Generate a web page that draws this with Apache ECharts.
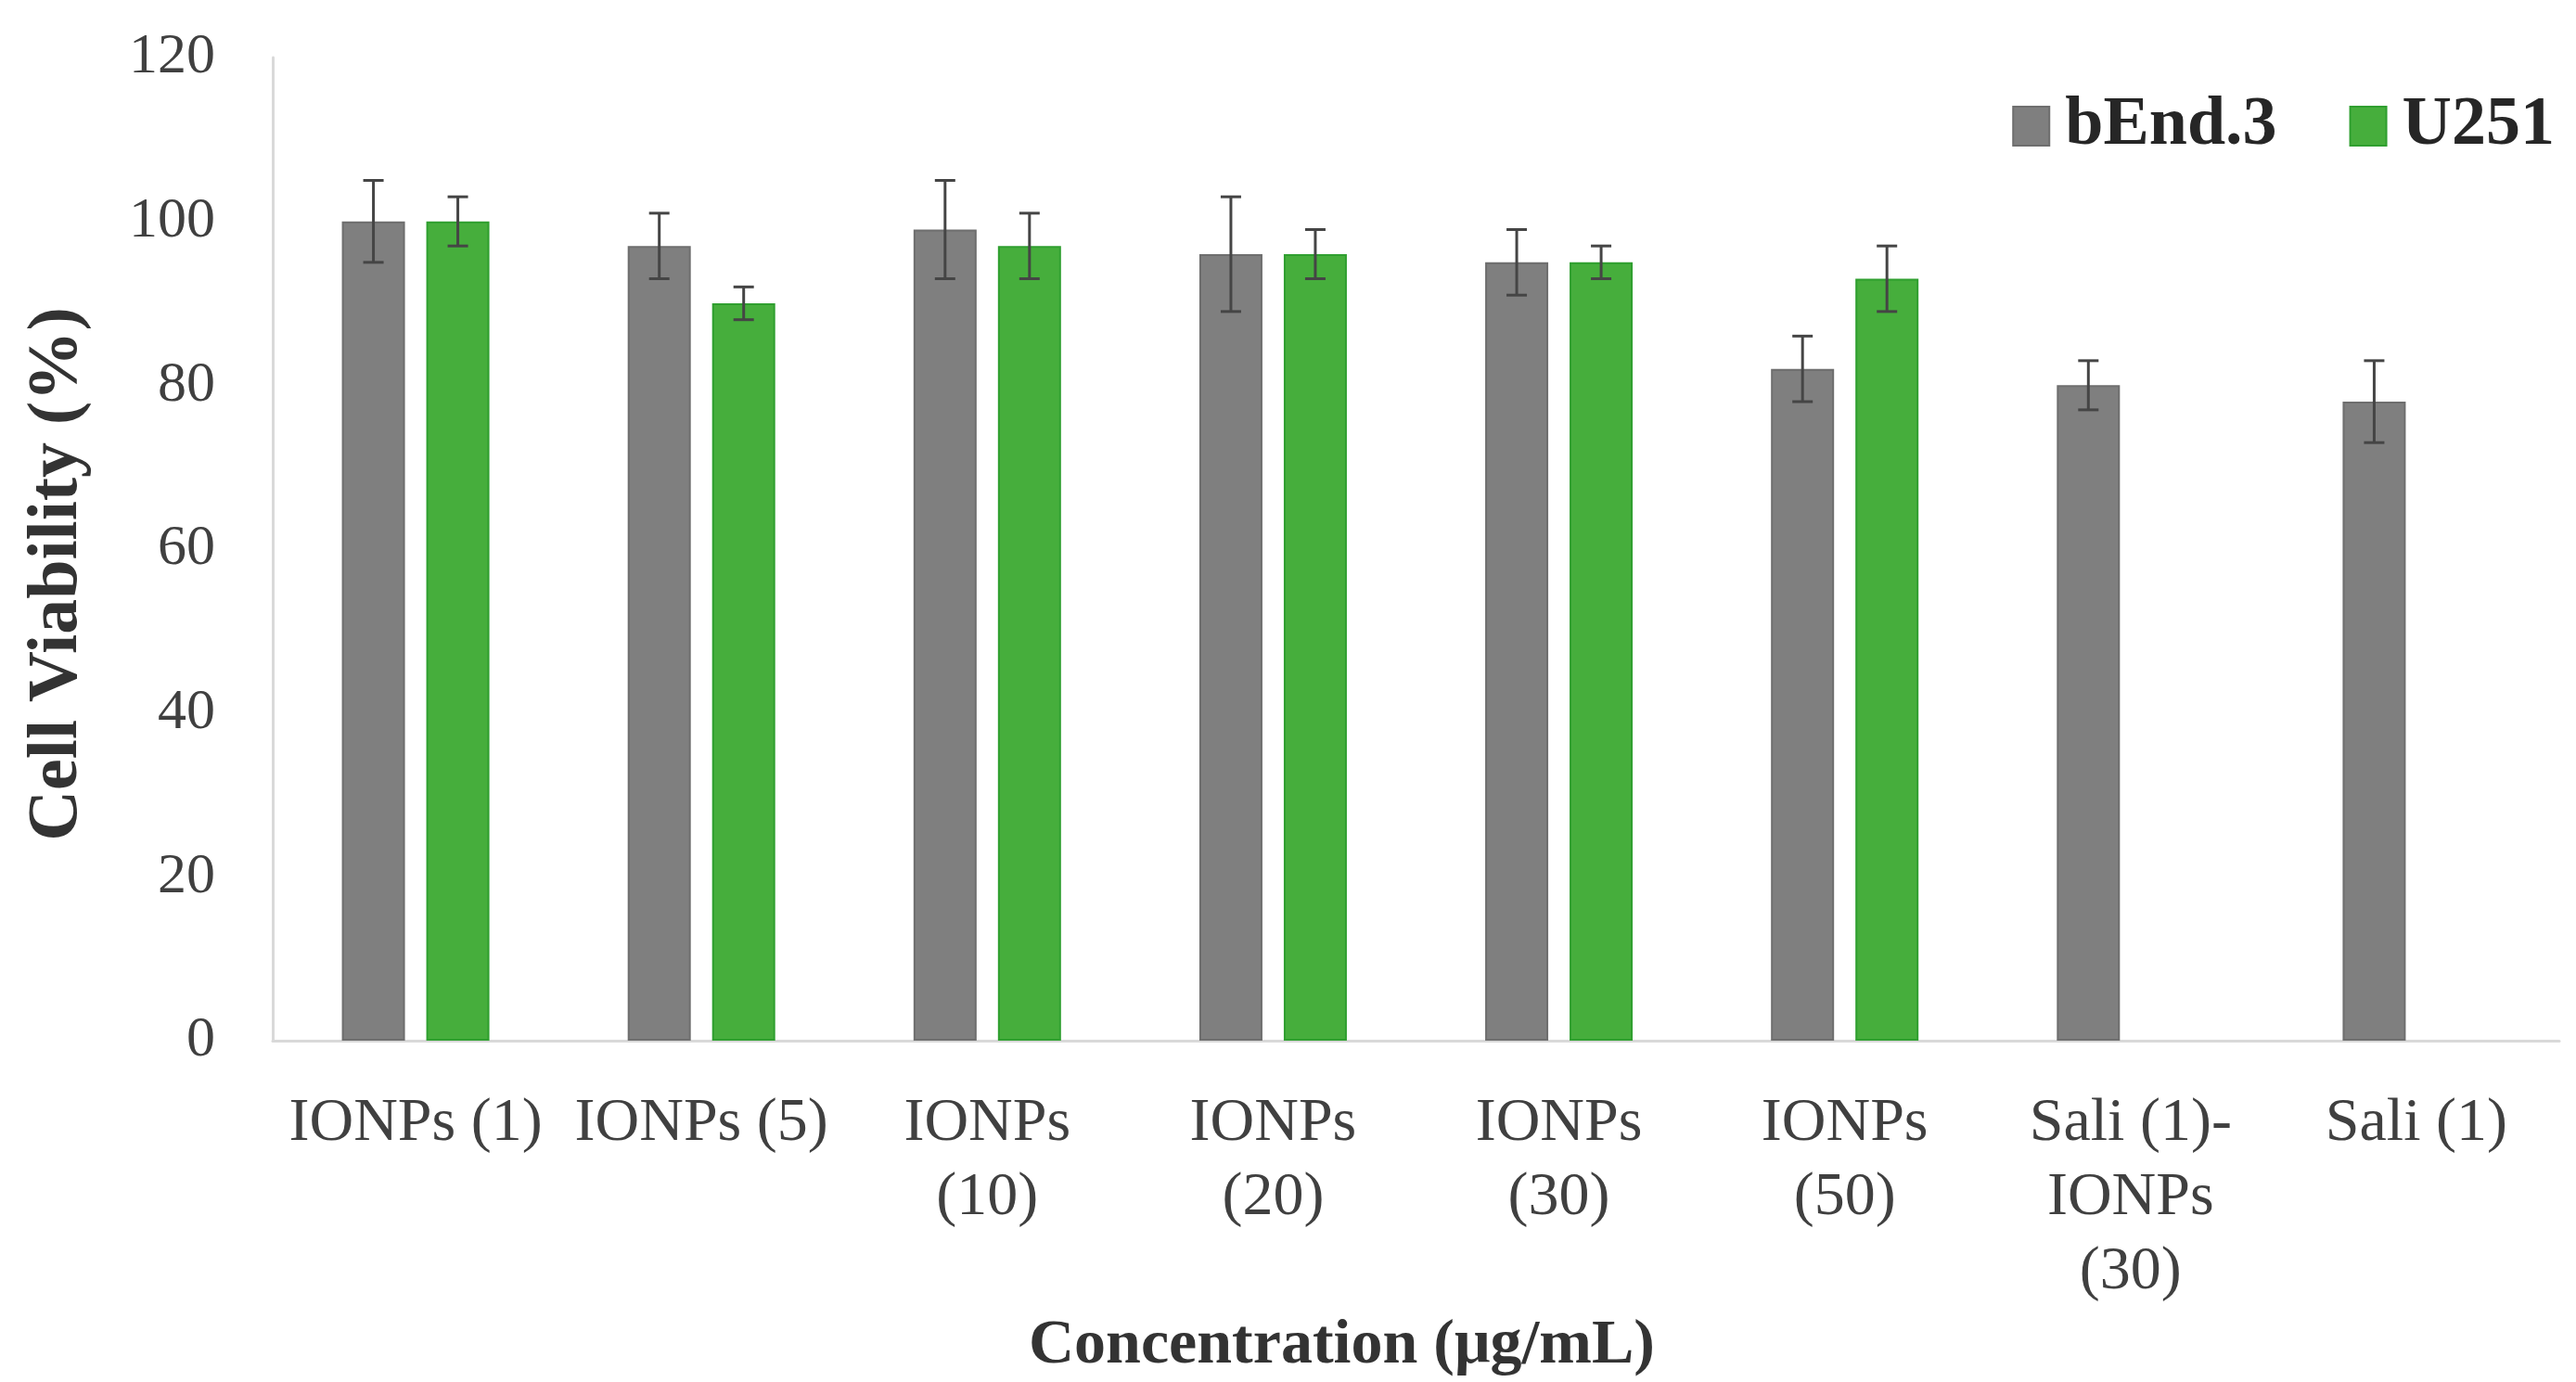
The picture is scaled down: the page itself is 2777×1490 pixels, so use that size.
<!DOCTYPE html>
<html>
<head>
<meta charset="utf-8">
<style>
    html, body { margin: 0; padding: 0; background: #fff; }
    #chart { width: 2777px; height: 1490px; }
</style>
<script src="https://cdn.jsdelivr.net/npm/echarts@6/dist/echarts.min.js"></script>
</head>
<body>
<div id="chart"></div>
<script type="text/javascript">
    // 数据
    var categories = ['IONPs (1)', 'IONPs (5)', 'IONPs\n(10)', 'IONPs\n(20)', 'IONPs\n(30)', 'IONPs\n(50)', 'Sali (1)-\nIONPs\n(30)', 'Sali (1)'];
    var bEnd3 = [100, 97, 99, 96, 95, 82, 80, 78];
    var bEnd3Err = [5, 4, 6, 7, 4, 4, 3, 5];
    var u251 = [100, 90, 97, 96, 95, 93, null, null];
    var u251Err = [3, 2, 4, 3, 2, 4, null, null];
    var yTicks = [0, 20, 40, 60, 80, 100, 120];

    var BAR_W = 68;
    var BAR_GAP = 23;
    var FONT = '"Liberation Serif", "Times New Roman", serif';

    function errData(vals, errs) {
        var out = [];
        for (var i = 0; i < vals.length; i++) {
            if (vals[i] != null) out.push([i, vals[i], errs[i]]);
        }
        return out;
    }

    // 误差线
    function errRender(side) {
        return function (params, api) {
            var i = api.value(0), m = api.value(1), e = api.value(2);
            var hi = api.coord([i, m + e]);
            var lo = api.coord([i, m - e]);
            var x = hi[0] + side * (BAR_W + BAR_GAP) / 2;
            var cap = 11;
            var st = { stroke: '#454545', lineWidth: 3 };
            return {
                type: 'group',
                children: [
                    { type: 'line', shape: { x1: x, y1: hi[1], x2: x, y2: lo[1] }, style: st },
                    { type: 'line', shape: { x1: x - cap, y1: hi[1], x2: x + cap, y2: hi[1] }, style: st },
                    { type: 'line', shape: { x1: x - cap, y1: lo[1], x2: x + cap, y2: lo[1] }, style: st }
                ]
            };
        };
    }

    var myChart = echarts.init(document.getElementById('chart'));
    myChart.setOption({
        animation: false,
        textStyle: { fontFamily: FONT },
        grid: { left: 294, right: 18, top: 62, bottom: 364 },
        legend: {
            data: ['bEnd.3', 'U251'],
            right: 18,
            top: 94,
            icon: 'rect',
            itemWidth: 39,
            itemHeight: 42,
            itemGap: 78,
            selectedMode: false,
            textStyle: { fontFamily: FONT, fontSize: 74, fontWeight: 'bold', color: '#262626', padding: [0, 0, 0, 12] }
        },
        xAxis: {
            type: 'category',
            data: categories,
            axisLine: { lineStyle: { color: '#d9d9d9', width: 3 } },
            axisTick: { show: false },
            axisLabel: { interval: 0, margin: 50, fontFamily: FONT, fontSize: 66, lineHeight: 80, color: '#404040' },
            name: 'Concentration (μg/mL)',
            nameLocation: 'middle',
            nameGap: 260,
            nameTextStyle: { fontFamily: FONT, fontSize: 68, fontWeight: 'bold', color: '#333', padding: [0, 160, 0, 0] }
        },
        yAxis: {
            type: 'value',
            min: yTicks[0],
            max: yTicks[yTicks.length - 1],
            interval: 20,
            axisLine: { show: true, lineStyle: { color: '#d9d9d9', width: 3 } },
            axisTick: { show: false },
            splitLine: { show: false },
            axisLabel: { margin: 62, fontFamily: FONT, fontSize: 62, color: '#404040' },
            name: 'Cell Viability (%)',
            nameLocation: 'middle',
            nameGap: 194,
            nameRotate: 90,
            nameTextStyle: { fontFamily: FONT, fontSize: 76, fontWeight: 'bold', color: '#333', padding: [0, 54, 0, 0] }
        },
        series: [
            {
                name: 'bEnd.3',
                type: 'bar',
                barWidth: BAR_W,
                barGap: (BAR_GAP / BAR_W * 100) + '%',
                itemStyle: { color: '#7f7f7f', borderColor: '#6e6e6e', borderWidth: 2 },
                data: bEnd3
            },
            {
                name: 'U251',
                type: 'bar',
                barWidth: BAR_W,
                itemStyle: { color: '#46ae3c', borderColor: '#2f9f2f', borderWidth: 2 },
                data: u251
            },
            {
                type: 'custom',
                renderItem: errRender(-1),
                data: errData(bEnd3, bEnd3Err),
                z: 10
            },
            {
                type: 'custom',
                renderItem: errRender(1),
                data: errData(u251, u251Err),
                z: 10
            }
        ]
    });
    window.addEventListener('resize', function () {
        myChart.resize();
    });
</script>
</body>
</html>
